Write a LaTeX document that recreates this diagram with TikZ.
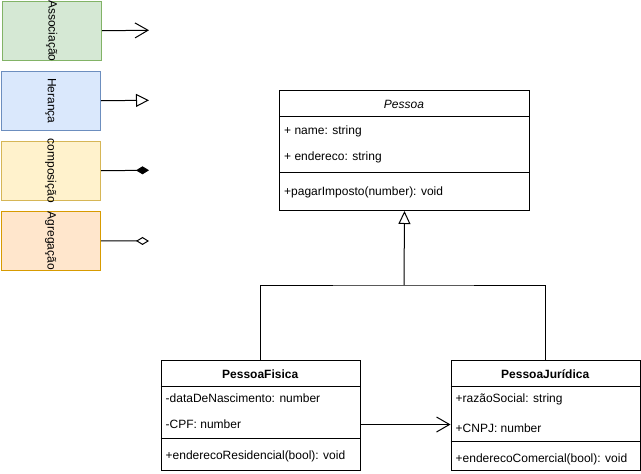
\documentclass[tikz,border=0pt]{standalone}
\usepackage{fontspec}
\setmainfont{Liberation Sans}
\usetikzlibrary{arrows.meta}
\definecolor{gfill}{HTML}{D5E8D4}
\definecolor{gdraw}{HTML}{82B366}
\definecolor{bfill}{HTML}{DAE8FC}
\definecolor{bdraw}{HTML}{6C8EBF}
\definecolor{yfill}{HTML}{FFF2CC}
\definecolor{ydraw}{HTML}{D6B656}
\definecolor{ofill}{HTML}{FFE6CC}
\definecolor{odraw}{HTML}{D79B00}
\begin{document}
\begin{tikzpicture}[x=1pt,y=-1pt,
  every node/.style={font=\fontsize{12pt}{14pt}\selectfont},
  box/.style={draw, line width=1pt, inner sep=0pt, anchor=north west},
  lbox/.style={draw, line width=1pt, inner sep=0pt, anchor=north west, minimum width=99.5pt, minimum height=59.5pt},
  txt/.style={inner sep=0pt, anchor=base west},
  ttl/.style={inner sep=0pt, anchor=base},
  conn/.style={line width=1pt},
  sep/.style={line width=1pt},
]
\useasboundingbox[fill=white] (0,0) rectangle (641,474);

% legend
\node[lbox, fill=gfill, draw=gdraw] (assoc) at (1.5,0.5) {};
\node (assoclbl) at (assoc.center) {\rotatebox[origin=c]{-90}{Associação}};
\coordinate (assocend) at (149,30.25);
\draw[conn, -{Straight Barb[length=13pt,width=15pt]}] (assoc.east) -- (assocend);

\node[lbox, fill=bfill, draw=bdraw] (heranca) at (0.5,70.5) {};
\node (herancalbl) at (heranca.center) {\rotatebox[origin=c]{-90}{Herança}};
\coordinate (herancaend) at (149,100.25);
\draw[conn, -{Triangle[open,length=13pt,width=13pt]}] (heranca.east) -- (herancaend);

\node[lbox, fill=yfill, draw=ydraw] (comp) at (0.5,140.5) {};
\node (complbl) at (comp.center) {\rotatebox[origin=c]{-90}{composição}};
\coordinate (compend) at (149,170.25);
\draw[conn, -{Diamond[length=13pt,width=8pt]}] (comp.east) -- (compend);

\node[lbox, fill=ofill, draw=odraw] (agreg) at (0.5,210.5) {};
\node (agreglbl) at (agreg.center) {\rotatebox[origin=c]{-90}{Agregação}};
\coordinate (agregend) at (149,241);
\draw[conn, -{Diamond[open,length=13pt,width=8pt]}] (agreg.east) -- (agregend);

% Pessoa
\node[box, minimum width=250pt, minimum height=120pt] (pessoa) at (279,90) {};
\draw[sep] (279,116) -- (529,116);
\draw[sep] (279,172) -- (529,172);
\node[ttl] (pt) at (404,108) {\textit{Pessoa}};
\node[txt] (pa1) at (284,134) {+ name: string};
\node[txt] (pa2) at (284,160) {+ endereco: string};
\node[txt] (pm1) at (284,195) {+pagarImposto(number): void};

% PessoaFisica
\node[box, minimum width=199.5pt, minimum height=110pt] (fisica) at (160.5,360) {};
\draw[sep] (160.5,386.5) -- (360,386.5);
\draw[sep] (160.5,438.5) -- (360,438.5);
\node[ttl] (ft) at (260.25,378) {\textbf{PessoaFisica}};
\node[txt] (fa1) at (165.5,402) {-dataDeNascimento: number};
\node[txt] (fa2) at (165.5,428) {-CPF: number};
\node[txt] (fm1) at (165.5,459) {+enderecoResidencial(bool): void};

% PessoaJuridica
\node[box, minimum width=189.5pt, minimum height=110pt] (juridica) at (450.5,360) {};
\draw[sep] (450.5,386.5) -- (640,386.5);
\draw[sep] (450.5,441.5) -- (640,441.5);
\node[ttl] (jt) at (545.25,378) {\textbf{PessoaJurídica}};
\node[txt] (ja1) at (455.5,402) {+razãoSocial: string};
\node[txt] (ja2) at (455.5,432) {+CNPJ: number};
\node[txt] (jm1) at (455.5,462) {+enderecoComercial(bool): void};

% inheritance
\coordinate (jn) at (404,285);
\draw[conn] (fisica.north) |- (jn) -| (juridica.north);
\draw[conn, -{Triangle[open,length=13pt,width=12pt]}] (jn) -- (pessoa.south);

% association
\draw[conn, -{Straight Barb[length=13pt,width=15pt]}] ([yshift=-9pt]fisica.east) -- ([yshift=-9pt]juridica.west);
\end{tikzpicture}
\end{document}
